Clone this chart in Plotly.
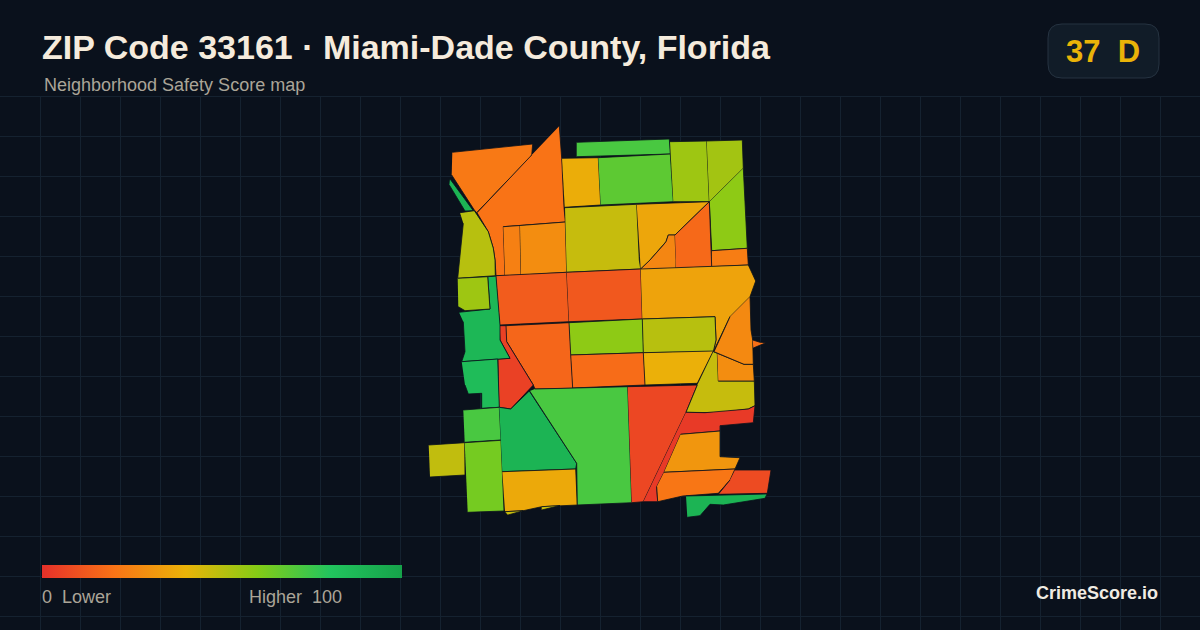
import plotly.graph_objs as go
from plotly.colors import sample_colorscale

# score colour ramp, same one as the legend bar
score_stops = [0, 0.2, 0.4, 0.6, 0.8, 1]
score_colors = ['rgb(229,48,42)', 'rgb(249,115,22)', 'rgb(234,179,8)', 'rgb(132,204,22)', 'rgb(34,197,94)', 'rgb(22,163,74)']

# one entry per neighbourhood (px space)
tract_scores = [22, 90, 20, 24, 28, 38, 72, 68, 55, 54, 58, 23, 47, 36, 26, 17, 13, 12, 35, 50, 58, 39, 18, 16, 5, 88,
                50, 55, 85, 72, 48, 63, 90, 37, 47, 47, 72, 7, 47, 28, 27, 19, 3, 31, 21, 8, 90]
tract_x = [
    [452.3, 532.7, 531.7, 530, 476.7, 474.3, 451.7],
    [450, 473.3, 465, 449.3],
    [559.3, 561.7, 564, 565.3, 503.3, 505, 496, 495, 493.3, 488.3, 477, 530, 531.7],
    [503.3, 520, 521, 505],
    [520, 565.3, 566.7, 521],
    [562, 598.3, 600.7, 564.7],
    [576.7, 669.3, 670.3, 576.7],
    [598.3, 670.3, 673.3, 600.7],
    [670, 706.7, 709.3, 673.3],
    [706.7, 742.3, 743.3, 709.3],
    [743.3, 747.3, 711.7, 709.3],
    [711.7, 747.3, 748.3, 711.7],
    [565, 636.7, 639.3, 640.7, 566.7],
    [636.7, 709.3, 675, 668.3, 666, 650, 640.7],
    [640.7, 650, 663.3, 666, 668.3, 675, 676, 676],
    [675, 709.3, 711.7, 676],
    [496, 566.7, 569, 500],
    [566.7, 640.7, 642.3, 569],
    [640.7, 748.3, 755.7, 750, 730, 713.3, 716, 715, 642.3],
    [642.3, 715, 716, 713.3, 643.3],
    [569, 642.3, 643.3, 570.7],
    [643.3, 713.3, 697.3, 645],
    [570.7, 643.3, 645, 572.7],
    [506, 569, 570.7, 572.7, 535, 533.3, 506.7],
    [498.3, 510, 500, 499, 506, 506.7, 533.3, 510.7, 499.3],
    [459, 490, 487.7, 496, 500, 500, 510, 498.3, 461.7, 465, 463.3],
    [460, 474.3, 488.3, 493.3, 495, 495.3, 457.7, 460, 463.3],
    [457.7, 487.7, 490, 465, 458.3],
    [461.7, 497.7, 499.3, 481.7, 481.7, 468.3, 465],
    [463.3, 499.3, 501, 464.7],
    [428.7, 464.7, 465, 430],
    [464.7, 501, 504, 467.7],
    [499.3, 510.7, 529.3, 576.7, 575.7, 502.3],
    [502.3, 575.7, 577.3, 541.7, 523.3, 505],
    [505, 523.3, 508],
    [541.7, 560, 541.7],
    [535, 627.7, 631.7, 590, 577.3, 576.7, 529.7],
    [627.7, 697.3, 686, 643.3, 631.7],
    [713.3, 717.3, 718.3, 754.3, 755, 748.3, 718.3, 705, 686, 697.3],
    [717.3, 744, 753.3, 754.3, 718.3],
    [750, 751, 752.7, 753.3, 744, 714, 730],
    [752.7, 760, 766, 753.3],
    [686, 705, 748.3, 755, 753.3, 720, 720, 680.7, 664, 656.7, 657.7, 643.3],
    [680.7, 720, 720, 740, 735, 664],
    [664, 735, 730, 718.3, 682.7, 657.7, 656.7],
    [735, 771, 767.3, 718.3, 730],
    [686, 767, 765, 723.3, 710, 700, 687.3],
]
tract_y = [
    [152.3, 144, 155, 157.3, 212.7, 210, 175],
    [179, 210.7, 211, 185],
    [126, 158.3, 207.3, 222, 226.7, 275.7, 275.7, 260, 248.3, 231.7, 212.7, 157.3, 155],
    [226.7, 225.5, 275, 275.7],
    [225.5, 222, 272.3, 275],
    [158.3, 157.7, 205, 207.3],
    [142.3, 139, 154, 156.7],
    [157.7, 154, 201.7, 205],
    [141.7, 141, 201.7, 201.7],
    [141, 140, 168.3, 201.7],
    [168.3, 248.3, 250.7, 201.7],
    [250.7, 248.3, 265, 266.7],
    [207.7, 204.3, 260, 269, 272.3],
    [204.3, 201.7, 235, 235, 241.7, 260, 269],
    [269, 260, 245, 241.7, 235, 235, 260, 268.3],
    [235, 201.7, 266.7, 268.3],
    [275.7, 272.3, 321.7, 325],
    [272.3, 269, 319, 321.7],
    [269, 265, 281, 296.7, 316.7, 351.7, 340, 316.7, 319],
    [319, 316.7, 340, 351.7, 352.7],
    [322.7, 319, 352.7, 355],
    [352.7, 351, 383.3, 385],
    [355, 352.7, 385, 388],
    [325.7, 322.7, 355, 388.3, 389, 385, 341.7],
    [359, 358.3, 340, 325.7, 325.7, 341.7, 385, 409, 407.3],
    [312.3, 309, 276.7, 276, 325, 340, 358.3, 359, 361.7, 351.7, 321.7],
    [212.7, 210.7, 231.7, 248.3, 260, 275.7, 278.3, 255, 223.3],
    [278.3, 276.7, 309, 310.7, 306.7],
    [361.7, 359, 407.3, 408.3, 393.3, 394, 385],
    [410, 407.3, 440, 442.3],
    [445, 442.7, 475, 477],
    [442.7, 440.3, 511, 512.3],
    [407.3, 409, 391, 463.3, 469, 471.7],
    [471.7, 469, 505, 506.7, 510.7, 511.7],
    [511.7, 510.7, 515],
    [506.7, 505.5, 510],
    [389, 386.7, 502.7, 504.3, 505, 463.3, 391],
    [386.7, 385, 412.3, 501.7, 502.7],
    [351.7, 353.3, 381, 381, 405.7, 409, 412.7, 412.7, 412.3, 385],
    [353.3, 364.3, 364.3, 381, 381],
    [296.7, 330, 340, 364.3, 364.3, 351.7, 316.7],
    [340, 342.3, 342.7, 348],
    [412.3, 412.7, 409, 405.7, 422.7, 425.7, 431, 434.3, 472.3, 486.7, 501.7, 501.7],
    [434.3, 431, 456.7, 457.7, 469, 472.3],
    [472.3, 469, 480, 493.3, 496, 501.7, 486.7],
    [470, 470, 493.3, 494.3, 480],
    [496, 494, 498.3, 505, 504.3, 515.7, 517.3],
]

legend_range = [0, 100]
title_text = 'ZIP Code 33161 · Miami-Dade County, Florida'
subtitle_text = 'Neighborhood Safety Score map'
badge_text = '37\u00a0\u00a0D'
low_text = '0\u00a0\u00a0Lower'
high_text = 'Higher\u00a0\u00a0100'
brand_text = 'CrimeScore.io'

W = 1200
H = 630
BG = '#0a111c'
GRID = '#152230'
FONT = 'Liberation Sans'
colorscale = [list(p) for p in zip(score_stops, score_colors)]


def paper_y(py):
    return 1 - py / H


fig = go.Figure()
fills = sample_colorscale(score_colors, [s / 100 for s in tract_scores])
for xs, ys, fill in zip(tract_x, tract_y, fills):
    fig.add_trace(go.Scatter(x=xs, y=ys, mode='lines', fill='toself', fillcolor=fill,
                             line=dict(color=BG, width=0.8), hoverinfo='skip', showlegend=False))

# only here for the legend bar
fig.add_trace(go.Scatter(x=[None, None], y=[None, None], mode='markers', showlegend=False, hoverinfo='skip',
                         marker=dict(color=legend_range, cmin=0, cmax=100, colorscale=colorscale, showscale=True,
                                     colorbar=dict(orientation='h', thickness=13, thicknessmode='pixels',
                                                   len=360, lenmode='pixels', x=42 / W, xanchor='left',
                                                   y=paper_y(578), yanchor='bottom', xpad=0, ypad=0,
                                                   outlinewidth=0, borderwidth=0, ticks='',
                                                   showticklabels=False))))


def label(text, x, py, size, color, bold=False):
    fig.add_annotation(text='<b>%s</b>' % text if bold else text, x=x, y=paper_y(py), xref='x', yref='paper',
                       xanchor='left', yanchor='middle', showarrow=False, align='left',
                       font=dict(family=FONT, size=size, color=color))


label(title_text, 40, 47, 34, '#f5ebdc', True)
label(subtitle_text, 42, 85, 18, '#aba598')
label(badge_text, 1064, 51, 31, '#eab308', True)
label(low_text, 40, 597, 18, '#aba598')
label(high_text, 247, 597, 18, '#aba598')
label(brand_text, 1034, 593, 18, '#f0ebe3', True)

fig.add_shape(type='path', xref='x', yref='paper', layer='below',
              path='M %d %f L %d %f Q %d %f %d %f L %d %f Q %d %f %d %f L %d %f Q %d %f %d %f L %d %f Q %d %f %d %f Z' % (
                  1062, paper_y(24), 1145, paper_y(24), 1159, paper_y(24), 1159, paper_y(38),
                  1159, paper_y(64), 1159, paper_y(78), 1145, paper_y(78),
                  1062, paper_y(78), 1048, paper_y(78), 1048, paper_y(64),
                  1048, paper_y(38), 1048, paper_y(24), 1062, paper_y(24)),
              fillcolor='#111c28', line=dict(color='#263341', width=1))
# top edge of the grid
fig.add_shape(type='line', xref='paper', yref='paper', layer='below', x0=0, x1=1,
              y0=paper_y(96.5), y1=paper_y(96.5), line=dict(color=GRID, width=1))

fig.update_layout(width=W, height=H, paper_bgcolor=BG, plot_bgcolor=BG,
                  margin=dict(l=0, r=0, t=0, b=0, autoexpand=False), showlegend=False,
                  xaxis=dict(range=[0, W], tick0=0, dtick=40, showgrid=True, gridcolor=GRID, gridwidth=1,
                             zeroline=False, showticklabels=False, ticks=''),
                  yaxis=dict(range=[H, 96], domain=[0, 1 - 96 / H], tick0=96, dtick=40, showgrid=True,
                             gridcolor=GRID, gridwidth=1, zeroline=False, showticklabels=False, ticks=''))

fig.write_html("out.html", config=dict(displayModeBar=False),
               post_script="document.body.style.margin='0';document.body.style.overflow='hidden';")
